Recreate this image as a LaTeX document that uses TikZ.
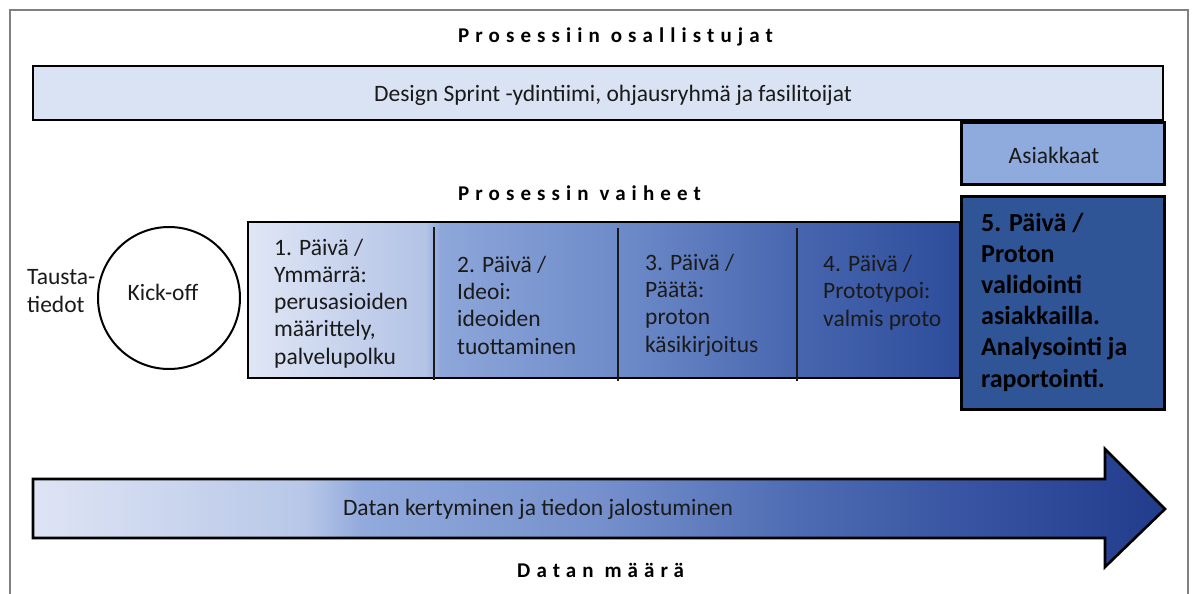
\documentclass[tikz,border=0pt]{standalone}
\usepackage{fontspec}
\setmainfont{Carlito}

\definecolor{txt}{HTML}{1A1A1A}
\definecolor{teamfill}{HTML}{DAE3F3}
\definecolor{custfill}{HTML}{8FAADC}
\definecolor{dayfive}{HTML}{2F5597}
\definecolor{framegray}{HTML}{808080}
% phase band colours, light to dark
\definecolor{p0}{HTML}{E0E6F5}
\definecolor{p1}{HTML}{B3C3E6}
\definecolor{p2}{HTML}{8EA7DA}
\definecolor{p3}{HTML}{6E8BC9}
\definecolor{p4}{HTML}{4866AF}
\definecolor{p5}{HTML}{2D4C9A}
% data arrow colours, light to dark
\definecolor{a0}{HTML}{DEE4F4}
\definecolor{a1}{HTML}{B8C7E8}
\definecolor{a2}{HTML}{92AADC}
\definecolor{a3}{HTML}{7590CC}
\definecolor{a4}{HTML}{4D6BB2}
\definecolor{a5}{HTML}{34509F}
\definecolor{a6}{HTML}{223C8C}

% the path's bounding box maps onto 25bp..75bp
\pgfdeclarehorizontalshading{phaseshade}{100bp}{%
  color(0bp)=(p0); color(25bp)=(p0); color(37.5bp)=(p1); color(38.5bp)=(p2);
  color(51bp)=(p3); color(63.5bp)=(p4); color(75bp)=(p5); color(100bp)=(p5)}
\pgfdeclarehorizontalshading{arrowshade}{100bp}{%
  color(0bp)=(a0); color(25bp)=(a0); color(37bp)=(a1); color(39.5bp)=(a2);
  color(50bp)=(a3); color(59bp)=(a4); color(67.5bp)=(a5); color(75bp)=(a6);
  color(100bp)=(a6)}

\begin{document}
\begin{tikzpicture}[x=1pt,y=-1pt,
  boxed/.style={draw=black, rectangle, inner sep=0pt, outer sep=0pt, anchor=north west},
  heading/.style={font=\fontsize{21}{25}\selectfont\bfseries\addfontfeatures{LetterSpace=29},
    text=black, anchor=base west, inner sep=0pt},
  plain/.style={font=\fontsize{23.5}{27.2}\selectfont, text=txt, inner sep=0pt},
  % multi-line cells are placed by the baseline of their last line
  cell/.style={plain, align=left, anchor=base west},
  divider/.style={draw=txt, line width=1.6pt}]

\useasboundingbox (0,0) rectangle (1192,594);

% page frame, open at the bottom
\draw[framegray, line width=1.2pt] (10,594) -- (10,10) -- (1188,10) -- (1188,594);

% participants
\node[heading] (partitle) at (458,43) {Prosessiin osallistujat};
\node[boxed, line width=2.5pt, fill=teamfill, minimum width=1130pt, minimum height=54pt]
  (team) at (33,66) {};
\node[plain, anchor=base] (teamtext) at (613,101.5)
  {Design Sprint -ydintiimi, ohjausryhmä ja fasilitoijat};
\node[boxed, line width=3pt, fill=custfill, minimum width=203pt, minimum height=62pt]
  (cust) at (961,122) {};
\node[plain, anchor=base] (custtext) at (1054,163) {Asiakkaat};

% phases
\node[heading] (phasetitle) at (458,200) {Prosessin vaiheet};
\node[cell] (background) at (27,312) {Tausta-\\tiedot};
\node[circle, draw=black, line width=2pt, minimum size=142pt, inner sep=0pt] (kickoff) at (169,298) {};
\node[plain, anchor=base] (kicktext) at (163,300) {Kick-off};

\node[boxed, line width=2pt, shade, shading=phaseshade, minimum width=712pt, minimum height=156pt]
  (phases) at (248,222) {};
\draw[divider] (434,227) -- (434,380);
\draw[divider] (618,228) -- (618,381);
\draw[divider] (797,228) -- (797,381);

\node[cell] (day1) at (274,364) {1. Päivä /\\Ymmärrä:\\perusasioiden\\määrittely,\\palvelupolku};
\node[cell] (day2) at (457,354) {2. Päivä /\\Ideoi:\\ideoiden\\tuottaminen};
\node[cell] (day3) at (645,352) {3. Päivä /\\Päätä:\\proton\\käsikirjoitus};
\node[cell] (day4) at (823,326) {4. Päivä /\\Prototypoi:\\valmis proto};

\node[boxed, line width=3pt, fill=dayfive, minimum width=203pt, minimum height=213pt]
  (day5box) at (961,196) {};
\node[align=left, anchor=base west, inner sep=0pt, text=black,
  font=\fontsize{26}{31.2}\selectfont\bfseries] (day5) at (981,387)
  {5. Päivä /\\Proton\\validointi\\asiakkailla.\\Analysointi ja\\raportointi.};

% data arrow
\coordinate (tail) at (33,509);
\coordinate (tip) at (1165,509);
\path[draw=black, line width=2.6pt, line join=miter, shade, shading=arrowshade]
  (33,479) -- (1105,479) -- (1105,449) -- (tip) -- (1105,567) -- (1105,538) -- (33,538) -- cycle;
\node[plain, anchor=base] (datatext) at (538,515) {Datan kertyminen ja tiedon jalostuminen};
\node[heading] (datatitle) at (517,577) {Datan määrä};

\end{tikzpicture}
\end{document}
